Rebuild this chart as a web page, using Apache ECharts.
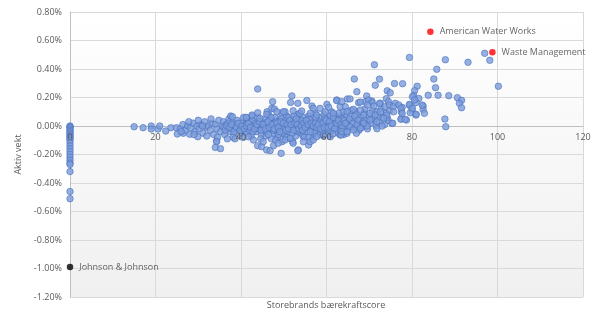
<!DOCTYPE html>
<html>
<head>
<meta charset="utf-8">
<script src="https://cdn.jsdelivr.net/npm/echarts@6/dist/echarts.min.js"></script>
<style>
html,body{margin:0;padding:0;background:#fff;}
#chart{width:605px;height:327px;}
</style>
</head>
<body>
<div id="chart"></div>
<script>
// Y-axis tick values (active weight, %)
const yTicks = [-1.2, -1.0, -0.8, -0.6, -0.4, -0.2, 0, 0.2, 0.4, 0.6, 0.8];
// X-axis tick values (sustainability score)
const xTicks = [0, 20, 40, 60, 80, 100, 120];
const xTitle = 'Storebrands bærekraftscore';
const yTitle = 'Aktiv vekt';

// Holdings with score 0
const zeroScorePoints = [
  [0,0.00],[0,-0.005],[0,-0.01],[0,-0.02],[0,-0.03],[0,-0.04],[0,-0.05],[0,-0.06],[0,-0.07],[0,-0.08],
  [0,-0.09],[0,-0.10],[0,-0.12],[0,-0.14],[0,-0.16],[0,-0.18],[0,-0.20],[0,-0.22],[0,-0.24],[0,-0.26],
  [0,-0.27],[0,-0.32],[0,-0.46],[0,-0.51]
];

// Low-score tail
const tailPoints = [
  [15.0,-0.005],[17.1,-0.012],[19.0,0.000],[19.0,-0.021],[20.6,-0.021],[21.0,0.000],[22.4,-0.035],
  [23.6,-0.012],[24.9,-0.012],[25.1,-0.056],[26.5,-0.051],[28.0,-0.058],[29.9,-0.075],[34.3,-0.105]
];

// Dense core of the portfolio
const corePoints = [
  [25.8,-0.02],[26.4,0.01],[27.0,-0.03],[27.5,0.00],[28.2,-0.01],[28.8,0.02],[29.3,-0.04],[29.7,0.00],
  [30.2,-0.02],[30.6,0.01],[31.1,-0.05],[31.5,0.03],[31.9,-0.01],[32.3,0.00],[32.8,-0.03],[33.2,0.02],
  [33.6,-0.06],[34.0,0.01],[34.4,-0.02],[34.8,0.04],[35.2,-0.04],[35.6,0.00],[30.0,0.04],[32.0,-0.07],
  [33.0,0.05],[34.5,-0.08],[27.8,0.03],[29.0,-0.06],[31.0,0.00],[26.0,-0.04],
  [35.9,0.03],[36.2,-0.06],[36.5,0.01],[36.9,-0.02],[37.2,0.05],[37.5,-0.04],[37.9,0.00],[38.2,-0.08],
  [38.5,0.02],[38.8,-0.03],[39.1,0.04],[39.4,-0.01],[39.7,-0.06],[40.0,0.02],[40.3,-0.03],[40.6,0.06],
  [40.9,0.00],[41.2,-0.05],[41.5,0.03],[41.8,-0.02],[42.1,0.01],[42.4,-0.07],[42.7,0.04],[43.0,-0.01],
  [43.3,0.02],[43.6,-0.04],[43.9,0.06],[44.2,-0.02],[44.5,0.00],[44.8,-0.06],[45.0,0.03],[36.0,-0.01],
  [37.0,0.02],[38.0,-0.02],[39.0,0.00],[40.0,-0.01],[41.0,0.01],[42.0,-0.03],[43.0,0.00],[44.0,0.01],
  [38.6,-0.09],[40.5,-0.08],[42.5,0.07],[44.6,-0.09],[36.8,-0.09],[37.6,0.07],
  [45.3,-0.03],[45.6,0.05],[45.9,-0.07],[46.2,0.01],[46.5,0.08],[46.8,-0.02],[47.1,-0.09],[47.4,0.03],
  [47.7,-0.05],[48.0,0.06],[48.3,0.00],[48.6,-0.08],[48.9,0.04],[49.2,-0.03],[49.5,0.09],[49.8,-0.01],
  [50.1,-0.06],[50.4,0.02],[50.7,0.07],[51.0,-0.04],[51.3,0.00],[51.6,-0.09],[51.9,0.05],[52.2,-0.02],
  [52.5,0.03],[52.8,-0.07],[53.1,0.08],[53.4,-0.01],[53.7,0.04],[54.0,-0.05],[54.3,0.01],[54.6,0.06],
  [54.9,-0.03],[45.5,0.00],[46.0,-0.04],[46.7,0.04],[47.2,-0.01],[47.9,0.02],[48.5,-0.04],[49.0,0.01],
  [49.7,-0.05],[50.2,0.04],[50.9,-0.01],[51.5,0.03],[52.0,-0.05],[52.7,0.00],[53.3,-0.04],[53.9,0.02],
  [54.5,-0.07],[45.8,0.02],[46.4,-0.06],[47.0,0.06],[47.6,-0.03],[48.2,0.03],[48.8,-0.06],[49.4,0.05],
  [50.0,-0.02],[50.6,-0.08],[51.2,0.06],[51.8,-0.01],[52.4,0.07],[53.0,-0.03],[53.6,0.00],[54.2,0.04],
  [54.8,-0.08],[46.1,0.10],[48.1,-0.10],[50.3,0.10],[52.1,-0.11],[53.8,0.09],[49.6,-0.11],
  [55.2,0.02],[55.5,-0.04],[55.8,0.07],[56.1,-0.01],[56.4,0.04],[56.7,-0.07],[57.0,0.01],[57.3,0.09],
  [57.6,-0.03],[57.9,0.03],[58.2,-0.06],[58.5,0.06],[58.8,0.00],[59.1,-0.04],[59.4,0.08],[59.7,0.02],
  [60.0,-0.02],[60.3,0.05],[60.6,-0.06],[60.9,0.01],[61.2,0.10],[61.5,-0.03],[61.8,0.04],[62.1,-0.01],
  [62.4,0.07],[62.7,-0.05],[63.0,0.02],[63.3,0.06],[63.6,-0.02],[63.9,0.03],[64.2,-0.04],[64.5,0.08],
  [64.8,0.01],[55.4,0.00],[56.0,0.05],[56.6,-0.02],[57.2,-0.05],[57.8,0.00],[58.4,0.03],[59.0,-0.01],
  [59.6,0.05],[60.2,0.00],[60.8,-0.03],[61.4,0.02],[62.0,0.05],[62.6,0.00],[63.2,-0.03],[63.8,0.05],
  [64.4,0.00],[55.9,-0.08],[57.5,0.06],[59.3,-0.07],[61.0,0.07],[62.9,0.09],[64.0,-0.06],
  [65.2,0.03],[65.6,0.07],[66.0,-0.01],[66.4,0.05],[66.8,0.10],[67.2,0.02],[67.6,-0.03],[68.0,0.06],
  [68.4,0.01],[68.8,0.09],[69.2,0.04],[69.6,-0.02],[70.0,0.07],[70.4,0.02],[70.8,0.11],[71.2,0.05],
  [71.6,0.00],[72.0,0.08],[72.4,0.03],[72.8,0.12],[73.2,0.06],[73.6,0.01],[74.0,0.09],[74.4,0.04],
  [74.8,0.11],[65.8,0.11],[67.0,0.08],[68.2,-0.01],[69.0,0.12],[70.6,0.05],[71.8,0.10],[73.0,0.00],[74.2,0.06]
];

// Inner, most crowded part of the core
const innerCorePoints = [
  [36.3,-0.03],[36.7,0.00],[37.3,-0.01],[37.8,0.01],[38.3,-0.04],[38.9,-0.01],[39.3,0.02],[39.8,-0.03],
  [40.2,0.00],[40.7,-0.02],[41.3,0.00],[41.7,0.02],[42.2,-0.01],[42.8,-0.04],[43.2,-0.02],[43.7,0.01],
  [44.3,0.03],[44.7,-0.03],[45.2,0.01],[45.7,-0.02],[46.3,0.03],[46.6,-0.01],[47.3,0.01],[47.8,-0.02],
  [48.4,0.02],[48.7,-0.01],[49.1,-0.04],[49.3,0.03],[49.9,0.02],[50.5,-0.03],[50.8,0.01],[51.1,-0.02],
  [51.4,0.04],[51.7,0.01],[52.3,-0.03],[52.6,0.02],[52.9,0.05],[53.2,0.01],[53.5,-0.02],[54.1,0.00],
  [54.4,-0.03],[54.7,0.02],[55.0,-0.01],[55.3,0.04],[55.7,0.01],[56.2,-0.04],[56.5,0.02],[56.9,0.00],
  [57.4,0.02],[57.7,-0.01],[58.1,0.01],[58.6,-0.02],[59.2,0.02],[59.5,-0.01],[59.9,0.04],[60.4,-0.01],
  [60.7,0.03],[61.1,0.00],[61.6,0.06],[61.9,-0.02],[62.3,0.02],[62.8,0.04],[63.4,0.01],[63.7,-0.01],
  [64.1,0.04],[64.6,0.02],[65.0,0.00],[65.4,0.05],[66.2,0.02],[66.6,0.07],[67.4,0.04],[68.6,0.03]
];

// Scattered holdings around the core
const spreadPoints = [
  [43.9,0.260],[51.9,0.211],[51.6,0.165],[53.3,0.159],[55.4,0.179],[47.4,0.171],[47.2,0.124],[47.8,0.119],
  [43.9,0.093],[41.3,0.058],[42.6,0.077],[49.9,0.100],[52.2,0.107],[56.6,0.140],[56.9,0.124],[60.1,0.152],
  [60.5,0.131],[62.4,0.183],[63.2,0.135],[64.9,0.190],[58.5,0.124],[59.7,0.100],[54.2,0.105],[56.2,0.089],
  [57.7,0.077],[61.6,0.089],[64.0,0.100],[48.4,0.100],[46.0,0.082],[44.4,0.054],[38.0,0.065],[41.2,0.061],
  [43.9,-0.138],[44.8,-0.145],[46.0,-0.168],[46.8,-0.173],[47.6,-0.138],[49.4,-0.192],[53.4,-0.168],
  [52.2,-0.121],[55.8,-0.133],[56.2,-0.110],[56.9,-0.098],[50.3,-0.098],[42.9,-0.098],[41.7,-0.075],
  [45.2,-0.110],[48.7,-0.121],[57.7,-0.075],[59.3,-0.063],[60.9,-0.075],[63.2,-0.063],[64.8,-0.051],
  [54.6,-0.110],[51.5,-0.086],[53.3,-0.173],[34.0,-0.150],[35.2,-0.159],[34.3,-0.110]
];

// High-score holdings
const highScorePoints = [
  [79.4,0.481],[97.0,0.510],[98.2,0.461],[87.8,0.465],[93.1,0.447],[85.8,0.398],[85.1,0.330],[85.5,0.269],
  [86.1,0.216],[83.8,0.216],[100.2,0.279],[88.6,0.213],[90.6,0.199],[91.6,0.180],[91.1,0.159],[91.6,0.128],
  [87.7,0.049],[87.9,-0.005],[77.8,0.297],[81.2,0.279],[80.6,0.248],[80.4,0.214],[81.6,0.193],[80.9,0.164],
  [79.4,0.145],[80.0,0.112],[80.9,0.077],[79.6,0.093],[82.6,0.140],[82.6,0.117],[82.9,0.089],[77.7,0.131],
  [77.5,0.051],[78.7,0.042],[71.2,0.430],[66.5,0.330],[71.4,0.286],[72.4,0.329],[75.9,0.298],[67.1,0.241],
  [69.4,0.211],[74.2,0.247],[74.9,0.233],[80.1,0.206],[80.6,0.183],[79.4,0.152],[80.1,0.124],[81.0,0.082],
  [82.4,0.147],[62.4,0.178],[65.5,0.190],[67.5,0.164],[69.1,0.171],[70.6,0.176],[72.6,0.159],[74.0,0.192],
  [74.5,0.171],[76.1,0.159],[76.9,0.147],[77.5,0.100],[77.4,0.047],[75.3,0.019],[71.8,-0.019],[69.5,0.000],
  [67.0,-0.051],[63.4,-0.063],[61.5,-0.056],[67.9,0.168],[69.8,0.183],[70.7,0.164],[69.6,0.147],[71.1,0.140],
  [72.4,0.159],[73.7,0.135],[74.7,0.147],[75.6,0.135],[77.4,0.124],[75.7,0.100],[77.7,0.089],[78.4,0.047],
  [75.5,0.019],[63.6,0.171],[64.4,0.135],[64.8,0.100],[66.3,0.117],[67.9,0.112],[68.7,0.077],[70.2,0.089],
  [71.4,0.077],[72.6,0.100],[74.1,0.077],[73.4,0.054],[71.8,0.030],[70.2,0.042],[68.7,0.019],[67.1,0.007],
  [65.5,-0.005],[64.4,0.019],[63.6,-0.040],[64.8,-0.040],[66.3,-0.028],[67.9,-0.016]
];

// Named holdings
const redNames = ['American Water Works', 'Waste Management'];
const redScore = [84.3, 98.8];
const redWeight = [0.662, 0.517];
const blackNames = ['Johnson & Johnson'];
const blackScore = [0];
const blackWeight = [-0.99];

const blueData = [].concat(zeroScorePoints, tailPoints, corePoints, innerCorePoints, spreadPoints, highScorePoints);
const redData = redNames.map((n, i) => ({ name: n, value: [redScore[i], redWeight[i]] }));
const blackData = blackNames.map((n, i) => ({ name: n, value: [blackScore[i], blackWeight[i]] }));

const chart = echarts.init(document.getElementById('chart'), null, { renderer: 'canvas' });
const textColor = '#595959';
const fontFamily = 'Open Sans, Liberation Sans, Arial, sans-serif';
const gridColor = '#d9d9d9';

// Plot layout (pixels)
const gridTop = 12, gridBottom = 30, gridLeft = 70, gridRight = 22;
const plotHeight = 327 - gridTop - gridBottom;
// distance from the bottom of the plot to the zero line
const zeroOffset = plotHeight * (0 - yTicks[0]) / (yTicks[yTicks.length - 1] - yTicks[0]);

chart.setOption({
  animation: false,
  backgroundColor: '#ffffff',
  textStyle: { fontFamily: fontFamily },
  grid: {
    left: gridLeft, right: gridRight, top: gridTop, bottom: gridBottom,
    show: true,
    borderWidth: 0,
    backgroundColor: new echarts.graphic.LinearGradient(0, 0, 0, 1, [
      { offset: 0, color: '#ffffff' },
      { offset: 1, color: '#f0f0f0' }
    ])
  },
  graphic: [{
    type: 'text',
    x: 326, y: 305,
    style: {
      text: xTitle, fill: textColor, fontSize: 9, fontFamily: fontFamily,
      align: 'center', verticalAlign: 'middle'
    },
    z: 10
  }],
  xAxis: [{
    // grid lines and zero line (below the markers)
    type: 'value',
    position: 'bottom',
    offset: -zeroOffset,
    min: xTicks[0], max: xTicks[xTicks.length - 1], interval: 20,
    axisLine: { show: true, onZero: false, lineStyle: { color: '#bfbfbf', width: 1 } },
    axisTick: { show: false },
    axisLabel: { show: false },
    splitLine: { show: true, lineStyle: { color: gridColor, width: 1 } }
  }, {
    // tick labels (above the markers)
    type: 'value',
    position: 'bottom',
    offset: -zeroOffset,
    z: 5,
    min: xTicks[0], max: xTicks[xTicks.length - 1], interval: 20,
    axisLine: { show: false, onZero: false },
    axisTick: { show: false },
    axisLabel: { color: textColor, fontSize: 9, fontFamily: fontFamily, margin: 7 },
    splitLine: { show: false }
  }],
  yAxis: {
    type: 'value',
    min: yTicks[0], max: yTicks[yTicks.length - 1], interval: 0.2,
    name: yTitle,
    nameLocation: 'middle',
    nameRotate: 90,
    nameGap: 43,
    nameTextStyle: { color: textColor, fontSize: 9, fontFamily: fontFamily },
    axisLine: { show: true, onZero: false, lineStyle: { color: '#bfbfbf', width: 1 } },
    axisTick: { show: false },
    axisLabel: {
      color: textColor, fontSize: 9, fontFamily: fontFamily, margin: 8,
      formatter: v => v.toFixed(2) + '%'
    },
    splitLine: { show: true, lineStyle: { color: gridColor, width: 1 } }
  },
  series: [{
    type: 'scatter',
    xAxisIndex: 0,
    data: blueData,
    symbolSize: 6.5,
    itemStyle: { color: '#7c9cd9', borderColor: '#4a72c0', borderWidth: 0.8 },
    z: 2
  }, {
    type: 'scatter',
    xAxisIndex: 0,
    data: redData,
    symbolSize: 6.5,
    itemStyle: { color: '#ff0000' },
    label: {
      show: true, position: 'right', distance: 6,
      formatter: p => p.name,
      color: '#404040', fontSize: 9, fontFamily: fontFamily
    },
    z: 3
  }, {
    type: 'scatter',
    xAxisIndex: 0,
    data: blackData,
    symbolSize: 6.5,
    itemStyle: { color: '#000000' },
    label: {
      show: true, position: 'right', distance: 6,
      formatter: p => p.name,
      color: '#404040', fontSize: 9, fontFamily: fontFamily
    },
    z: 3
  }]
});
</script>
</body>
</html>
